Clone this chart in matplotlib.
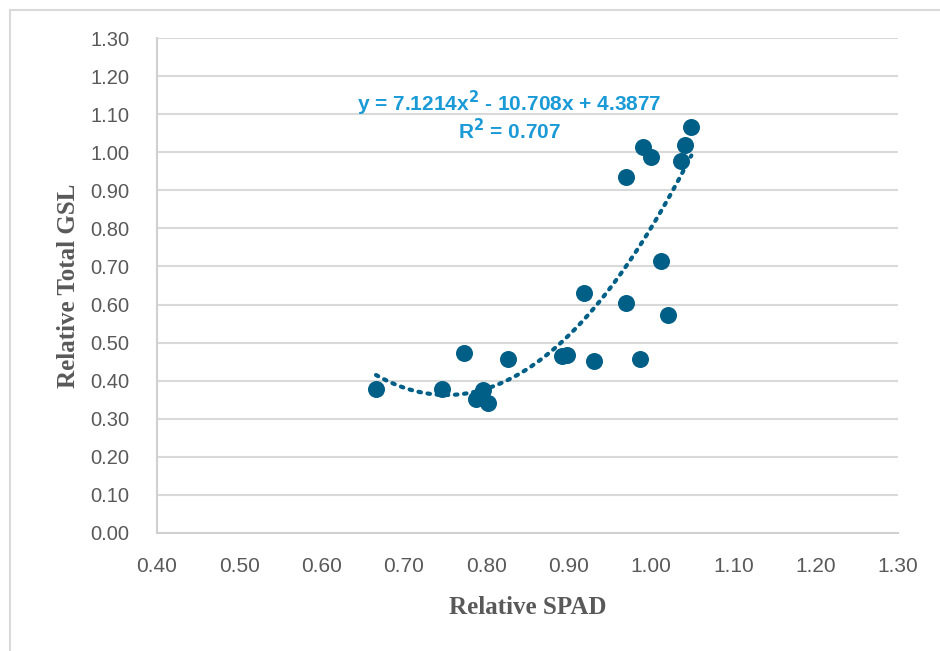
import numpy as np
import matplotlib
matplotlib.use("Agg")
import matplotlib.pyplot as plt
from matplotlib.patches import Rectangle

# Relative SPAD vs Relative Total GSL
spad = [0.666, 0.746, 0.773, 0.787, 0.796, 0.802, 0.826, 0.892, 0.898, 0.919,
        0.931, 0.970, 0.970, 0.987, 0.990, 1.000, 1.012, 1.021, 1.036, 1.041, 1.049]
gsl = [0.378, 0.378, 0.473, 0.352, 0.376, 0.341, 0.457, 0.465, 0.467, 0.630,
       0.452, 0.604, 0.935, 0.457, 1.014, 0.987, 0.714, 0.572, 0.977, 1.019, 1.066]

# polynomial trendline coefficients as printed on the chart
coef = [7.1214, -10.708, 4.3877]
r2 = 0.707

x_ticks = np.arange(0.40, 1.301, 0.10)
y_ticks = np.arange(0.00, 1.301, 0.10)

marker_col = "#005f86"
eq_col = "#1a9ad6"
grey_txt = "#595959"

fig = plt.figure(figsize=(9.4, 6.51), dpi=100)
fig.patches.append(Rectangle((10 / 940, -0.1), 1.2, 1 - 10 / 651 + 0.1,
                             transform=fig.transFigure, fill=False,
                             edgecolor="#d9d9d9", linewidth=1.5))
ax = fig.add_axes([157 / 940, 1 - 533 / 651, (898 - 157) / 940, (533 - 38) / 651])

ax.scatter(spad, gsl, s=150, color=marker_col, zorder=3, linewidths=0)

xs = np.linspace(min(spad), max(spad), 200)
ax.plot(xs, np.polyval(coef, xs), linestyle=(0, (0.6, 1.6)), linewidth=3,
        color=marker_col, dash_capstyle="round", zorder=2)

ax.set_xlim(0.40, 1.30)
ax.set_ylim(0.00, 1.30)
ax.set_xticks(x_ticks)
ax.set_yticks(y_ticks)
ax.set_xticklabels([f"{v:.2f}" for v in x_ticks],
                   fontfamily=["Liberation Sans Narrow", "Liberation Sans"],
                   fontsize=15, color=grey_txt)
ax.set_yticklabels([f"{v:.2f}" for v in y_ticks],
                   fontfamily="Liberation Sans", fontsize=14.5, color=grey_txt)
ax.tick_params(axis="x", length=0, pad=17)
ax.tick_params(axis="y", length=0, pad=20)

ax.grid(axis="y", color="#d9d9d9", linewidth=1.5)
ax.set_axisbelow(True)
for side in ["top", "right"]:
    ax.spines[side].set_visible(False)
ax.spines["left"].set_color("#d0d0d0")
ax.spines["bottom"].set_color("#d0d0d0")
ax.spines["left"].set_linewidth(1.5)
ax.spines["bottom"].set_linewidth(1.5)

ax.set_xlabel("Relative SPAD", fontfamily="Liberation Serif", fontweight="bold",
              fontsize=18, color=grey_txt, labelpad=15)
ax.set_ylabel("Relative Total GSL", fontfamily="Liberation Serif", fontweight="bold",
              fontsize=18, color=grey_txt, labelpad=7)

eq = f"y = {coef[0]}x$\\mathbf{{^2}}$ - {abs(coef[1])}x + {coef[2]}"
ax.text(0.828, 1.129, eq, ha="center", va="center", fontsize=15,
        fontweight="bold", color=eq_col, fontfamily="Liberation Sans")
ax.text(0.828, 1.058, f"R$\\mathbf{{^2}}$ = {r2}", ha="center", va="center", fontsize=15,
        fontweight="bold", color=eq_col, fontfamily="Liberation Sans")

fig.savefig("out.png", dpi=100)
